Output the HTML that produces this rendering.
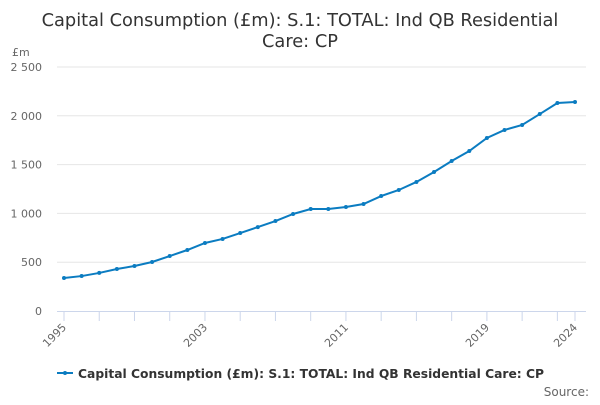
<!DOCTYPE html>
<html><head><meta charset="utf-8"><style>
body{margin:0;background:#fff;font-family:"Liberation Sans","DejaVu Sans",sans-serif}
svg text{font-family:"DejaVu Sans","Liberation Sans",sans-serif}
</style></head><body>
<svg id="c" width="600" height="400">
<text x="300" y="26" text-anchor="middle" font-size="17.8" fill="#333">Capital Consumption (£m): S.1: TOTAL: Ind QB Residential</text>
<text x="300" y="47" text-anchor="middle" font-size="17.8" fill="#333">Care: CP</text>
<text x="12" y="56" font-size="11" fill="#666">£m</text>
<g id="grid"></g><g id="xa"></g><g id="plot"></g>
<g>
<line x1="57" y1="373" x2="73" y2="373" stroke="#0b7cc1" stroke-width="2"/>
<circle cx="65" cy="373" r="2" fill="#0b7cc1"/>
<text x="78" y="378" font-size="12.3" font-weight="bold" fill="#333">Capital Consumption (£m): S.1: TOTAL: Ind QB Residential Care: CP</text>
</g>
<text x="589" y="396" text-anchor="end" font-size="12" fill="#666">Source:</text>
</svg>
<script>
const years=[1995,1996,1997,1998,1999,2000,2001,2002,2003,2004,2005,2006,2007,2008,2009,2010,2011,2012,2013,2014,2015,2016,2017,2018,2019,2020,2021,2022,2023,2024];
const values=[338,358,390,430,461,502,563,625,697,738,799,860,922,994,1045,1045,1066,1096,1178,1240,1322,1424,1537,1639,1773,1855,1906,2018,2131,2141];
const yTicks=[0,500,1000,1500,2000,2500];
const yTickLabels=["0","500","1 000","1 500","2 000","2 500"];
const xLabels=[1995,2003,2011,2019,2024];
const NS="http://www.w3.org/2000/svg";
const x=v=>64+(v-1995)*(575-64)/29;
const y=v=>311-v*244/2500;
function mk(t,a,p){const e=document.createElementNS(NS,t);for(const k in a)e.setAttribute(k,a[k]);p.appendChild(e);return e;}
const g=document.getElementById('grid'),xa=document.getElementById('xa'),pl=document.getElementById('plot');
yTicks.forEach((t,i)=>{
 if(t>0){const l=mk('line',{x1:57,x2:586,y1:y(t),y2:y(t),stroke:'#e6e6e6'},g);
 
 }
 const tx=mk('text',{x:42,y:y(t)+4,'text-anchor':'end','font-size':11,fill:'#666'},g);tx.textContent=yTickLabels[i];
 
 
});
const ax=mk('line',{x1:57,x2:586,y1:311.5,y2:311.5,stroke:'#ccd6eb'},xa);


years.forEach(yr=>{if((yr-1995)%2===0||yr===2024){const t=mk('line',{x1:x(yr),x2:x(yr),y1:311,y2:321,stroke:'#ccd6eb'},xa);
 
 }});
xLabels.forEach(yr=>{const t=mk('text',{x:x(yr)+3,y:328,'text-anchor':'end','font-size':11,fill:'#666',transform:`rotate(-45 ${x(yr)+3} 328)`},xa);t.textContent=yr;
 
 });
const path=mk('polyline',{points:years.map((yr,i)=>x(yr)+','+y(values[i])).join(' '),fill:'none',stroke:'#0b7cc1','stroke-width':2},pl);


years.forEach((yr,i)=>{const c=mk('circle',{cx:x(yr),cy:y(values[i]),r:2,fill:'#0b7cc1'},pl);
 
 });
</script>
</body></html>
